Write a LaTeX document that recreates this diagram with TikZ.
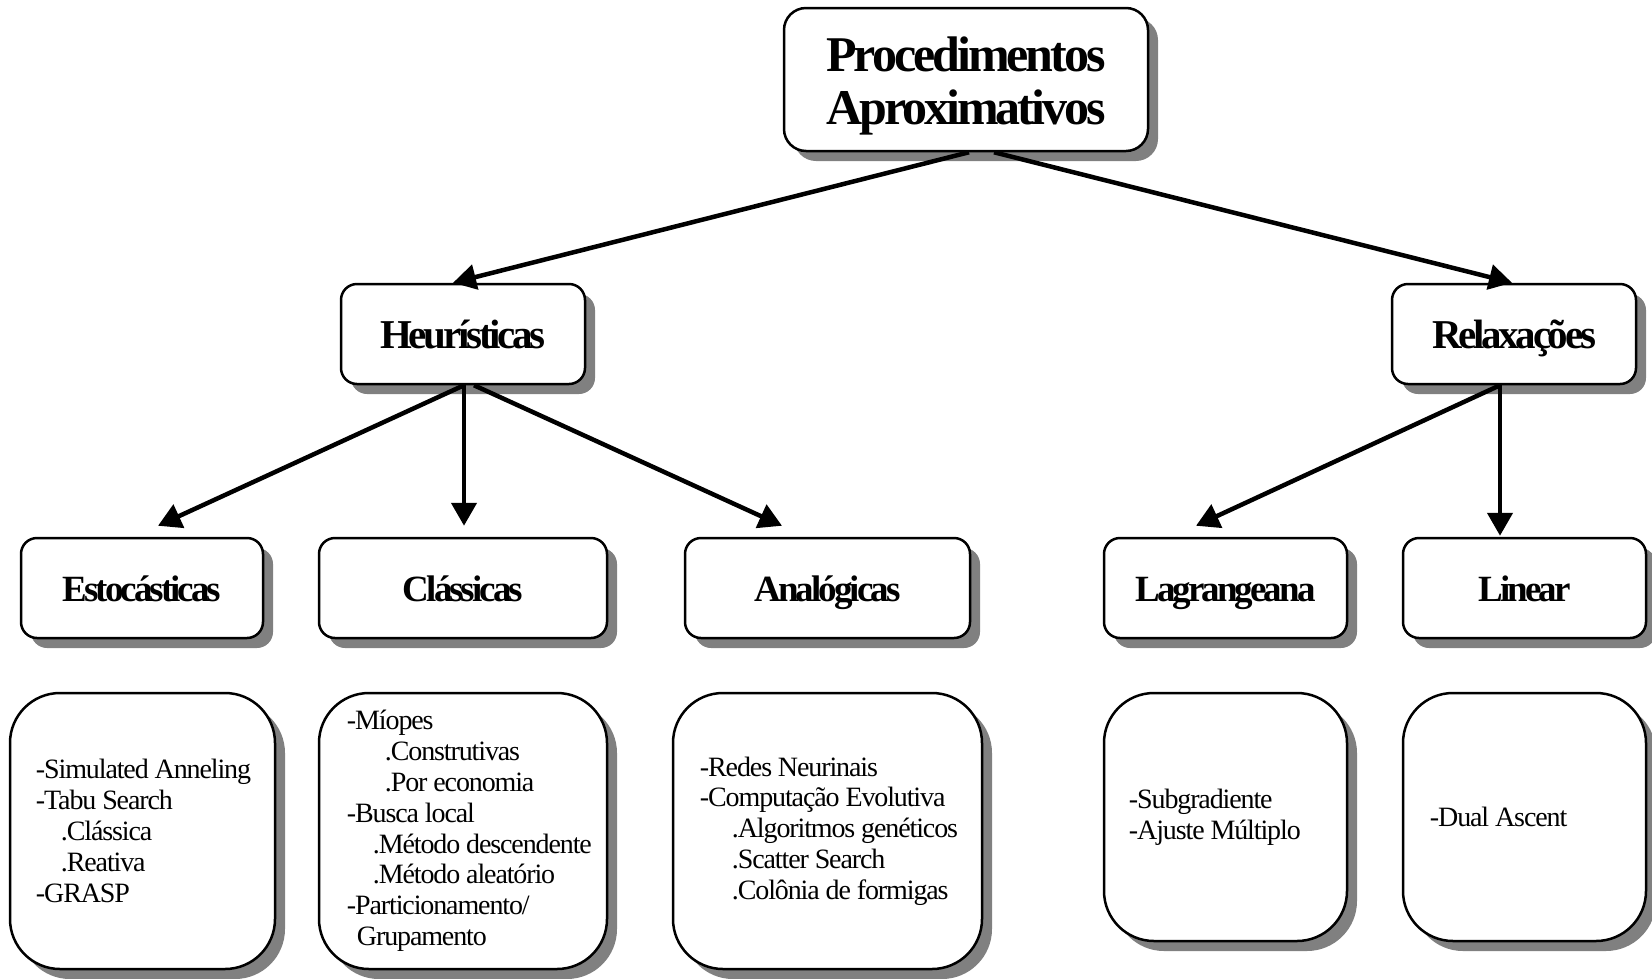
\documentclass[tikz,border=0pt]{standalone}
\usepackage{fontspec}
\setmainfont{Liberation Serif}
\newfontfamily\headfont[LetterSpace=-6]{Liberation Serif}
\newfontfamily\lvlfont[LetterSpace=-8]{Liberation Serif}
\newfontfamily\itemfont[LetterSpace=-4]{Liberation Serif}
\usetikzlibrary{arrows.meta,shadows}

\tikzset{
  card/.style={draw=black, line width=2.5pt, fill=white, inner sep=0pt,
    drop shadow={shadow xshift=10pt, shadow yshift=-10pt, fill=shadowgray, opacity=1}},
  headbox/.style={card, rounded corners=22pt, align=center,
    text height=100pt, text depth=11pt,
    font=\headfont\bfseries\fontsize{50}{53}\selectfont},
  midbox/.style={card, rounded corners=16pt, minimum width=244pt, minimum height=100pt,
    text height=29pt, text depth=0pt,
    font=\lvlfont\bfseries\fontsize{41}{46}\selectfont},
  catbox/.style={card, rounded corners=16pt, minimum height=100pt,
    text height=27pt, text depth=0pt,
    font=\lvlfont\bfseries\fontsize{37}{42}\selectfont},
  listbox/.style={card, rounded corners=50pt},
  listtext/.style={anchor=west, align=left, inner sep=0pt,
    font=\itemfont\fontsize{28}{30.8}\selectfont},
  arr/.style={line width=4.5pt, -{Triangle[length=23pt,width=25pt]}}
}
\definecolor{shadowgray}{HTML}{808080}

\begin{document}
\begin{tikzpicture}[x=1pt,y=-1pt]
\useasboundingbox (0,0) rectangle (1652,978);

% root
\node[headbox, minimum width=364pt, minimum height=143pt] (root) at (966,79.5)
  {Procedimentos\\Aproximativos};

% second level
\node[midbox] (heur) at (463,334) {Heurísticas};
\node[midbox] (relax) at (1514,334) {Relaxações};

% third level
\node[catbox, minimum width=242pt] (esto) at (142,588) {Estocásticas};
\node[catbox, minimum width=288pt] (clas) at (463,588) {Clássicas};
\node[catbox, minimum width=285pt] (anal) at (827.5,588) {Analógicas};
\node[catbox, minimum width=243pt] (lagr) at (1225.5,588) {Lagrangeana};
\node[catbox, minimum width=243pt] (lin) at (1524.5,588) {Linear};

% method lists
\node[listbox, minimum width=265pt, minimum height=276pt] (b1) at (142.5,831) {};
\node[listbox, minimum width=288pt, minimum height=276pt] (b2) at (463,831) {};
\node[listbox, minimum width=309pt, minimum height=276pt] (b3) at (827.5,831) {};
\node[listbox, minimum width=243pt, minimum height=248pt] (b4) at (1225.5,817) {};
\node[listbox, minimum width=243pt, minimum height=248pt] (b5) at (1524.5,817) {};

\node[listtext] (t1) at ([xshift=27pt]b1.west) {%
  -Simulated Anneling\\
  -Tabu Search\\
  \hspace*{25pt}.Clássica\\
  \hspace*{25pt}.Reativa\\
  -GRASP};
\node[listtext] (t2) at ([xshift=29pt]b2.west) {%
  -Míopes\\
  \hspace*{38pt}.Construtivas\\
  \hspace*{38pt}.Por economia\\
  -Busca local\\
  \hspace*{26pt}.Método descendente\\
  \hspace*{26pt}.Método aleatório\\
  -Particionamento/\\
  \hspace*{10pt}Grupamento};
\node[listtext] (t3) at ([xshift=28pt]b3.west) {%
  -Redes Neurinais\\
  -Computação Evolutiva\\
  \hspace*{32pt}.Algoritmos genéticos\\
  \hspace*{32pt}.Scatter Search\\
  \hspace*{32pt}.Colônia de formigas};
\node[listtext] (t4) at ([xshift=26pt]b4.west) {%
  -Subgradiente\\
  -Ajuste Múltiplo};
\node[listtext] (t5) at ([xshift=28pt]b5.west) {-Dual Ascent};

% connectors
\draw[arr] ([xshift=3pt]root.south) -- ([xshift=-10pt]heur.north);
\draw[arr] ([xshift=28pt]root.south) -- ([xshift=-2pt]relax.north);

\draw[arr] ([xshift=1pt]heur.south) -- ([xshift=16pt,yshift=11pt]esto.north);
\draw[arr] ([xshift=1pt]heur.south) -- ([xshift=1pt,yshift=11pt]clas.north);
\draw[arr] ([xshift=11pt]heur.south) -- ([xshift=-45.5pt,yshift=11pt]anal.north);

\draw[arr] ([xshift=-14pt]relax.south) -- ([xshift=-29.5pt,yshift=11pt]lagr.north);
\draw[arr] ([xshift=-14pt]relax.south) -- ([xshift=-24.5pt,yshift=1pt]lin.north);
\end{tikzpicture}
\end{document}
